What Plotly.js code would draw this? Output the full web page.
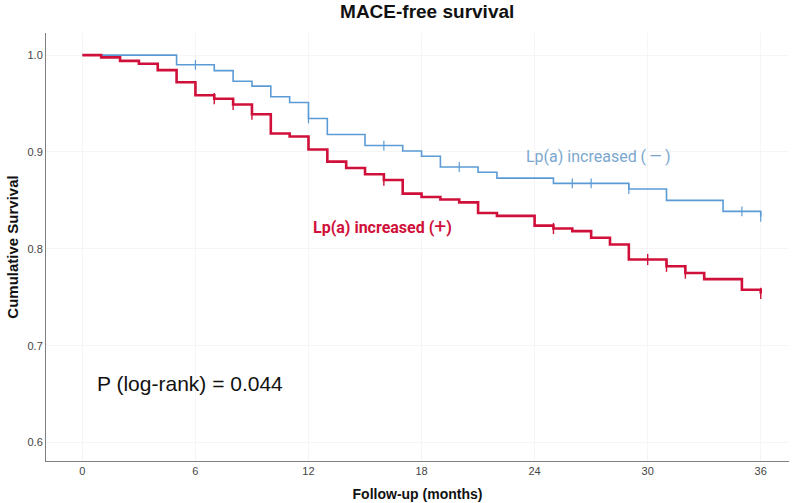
<!DOCTYPE html>
<html>
<head>
<meta charset="utf-8">
<script src="https://cdn.plot.ly/plotly-3.0.1.min.js"></script>
<style>
  html, body { margin: 0; padding: 0; background: #fff; }
  #plot { width: 797px; height: 503px; }
</style>
</head>
<body>
<div id="plot"></div>
<script>
// Kaplan-Meier steps (months, survival)
const negTime = [0, 5, 7, 8, 9, 10, 11, 12, 13, 15, 17, 18, 19, 21, 22, 25, 29, 31, 34, 36];
const negSurv = [1.0, 0.990, 0.984, 0.973, 0.968, 0.957, 0.951, 0.9345, 0.918, 0.9066, 0.901,
                 0.8955, 0.8845, 0.879, 0.873, 0.8676, 0.8617, 0.850, 0.8387, 0.833];
const negCens = [6, 12, 16, 20, 26, 27, 29, 35, 36];

const posTime = [0, 1, 2, 3, 4, 5, 6, 7, 8, 9, 10, 11, 12, 13, 14, 15, 16, 17, 18, 19, 20,
                 21, 22, 24, 25, 26, 27, 28, 29, 31, 32, 33, 35, 36];
const posSurv = [1.0, 0.9976, 0.994, 0.991, 0.9845, 0.972, 0.9586, 0.955, 0.949, 0.939, 0.919,
                 0.916, 0.9025, 0.890, 0.8835, 0.877, 0.871, 0.857, 0.8535, 0.851, 0.848,
                 0.837, 0.834, 0.824, 0.821, 0.8183, 0.8115, 0.8045, 0.789, 0.782, 0.775,
                 0.7687, 0.7577, 0.754];
const posCens = [7, 8, 9, 16, 25, 30, 31, 32, 36];

const xTicks = [0, 6, 12, 18, 24, 30, 36];
const yTicks = [0.6, 0.7, 0.8, 0.9, 1.0];

const BLUE = "#5b9bd5";
const RED = "#d0103a";

// survival value at time t (step function)
function survAt(times, surv, t) {
  let v = surv[0];
  for (let i = 0; i < times.length; i++) {
    if (times[i] <= t) v = surv[i];
  }
  return v;
}

const negLine = {
  x: negTime, y: negSurv,
  type: "scatter", mode: "lines",
  line: { shape: "hv", color: BLUE, width: 1.6 },
  hoverinfo: "skip"
};
const posLine = {
  x: posTime, y: posSurv,
  type: "scatter", mode: "lines",
  line: { shape: "hv", color: RED, width: 2.6 },
  hoverinfo: "skip"
};
const negTicks = {
  x: negCens, y: negCens.map(t => survAt(negTime, negSurv, t)),
  type: "scatter", mode: "markers",
  marker: { symbol: "line-ns", size: 7, line: { color: BLUE, width: 1.2 } },
  hoverinfo: "skip"
};
const posTicks = {
  x: posCens, y: posCens.map(t => survAt(posTime, posSurv, t)),
  type: "scatter", mode: "markers",
  marker: { symbol: "line-ns", size: 8, line: { color: RED, width: 1.4 } },
  hoverinfo: "skip"
};

const layout = {
  width: 797,
  height: 503,
  margin: { l: 46, r: 8, t: 33, b: 42 },
  paper_bgcolor: "#fff",
  plot_bgcolor: "#fff",
  showlegend: false,
  font: { family: "Liberation Sans, Arial, sans-serif", size: 11, color: "#444" },
  title: {
    text: "<b>MACE-free survival</b>",
    font: { size: 19, color: "#111" },
    x: 0.536, xanchor: "center",
    y: 0.977, yanchor: "middle"
  },
  xaxis: {
    title: { text: "<b>Follow-up (months)</b>", font: { size: 14, color: "#111" }, standoff: 12 },
    range: [-1.93, 37.5],
    tickvals: xTicks,
    ticktext: xTicks.map(String),
    showline: true, linecolor: "#7f7f7f", linewidth: 1,
    showgrid: true, gridcolor: "#f5f5f5",
    zeroline: false, ticks: "", ticklen: 0
  },
  yaxis: {
    title: { text: "<b>Cumulative Survival</b>", font: { size: 15, color: "#111" }, standoff: 5 },
    range: [0.581, 1.0228],
    tickvals: yTicks,
    ticktext: yTicks.map(v => v.toFixed(1)),
    showline: true, linecolor: "#7f7f7f", linewidth: 1,
    showgrid: true, gridcolor: "#f5f5f5",
    zeroline: false, ticks: "", ticklen: 0
  },
  annotations: [
    {
      x: 27.4, y: 0.8956, xref: "x", yref: "y",
      text: "Lp(a) increased (\u2009\u2014\u2009)", showarrow: false,
      font: { size: 16, color: "#7ba7cf", family: "Roboto, Liberation Sans, sans-serif" }
    },
    {
      x: 15.94, y: 0.824, xref: "x", yref: "y",
      text: "<b>Lp(a) increased (</b><span style=\"font-size:21px\">+</span><b>)</b>", showarrow: false,
      font: { size: 16, color: RED, family: "Roboto, Liberation Sans, sans-serif" }
    },
    {
      x: 5.72, y: 0.661, xref: "x", yref: "y",
      text: "P (log-rank) = 0.044", showarrow: false,
      font: { size: 21, color: "#111" }
    }
  ]
};

Plotly.newPlot("plot", [negLine, posLine, negTicks, posTicks], layout, { displayModeBar: false, staticPlot: true });
</script>
</body>
</html>
